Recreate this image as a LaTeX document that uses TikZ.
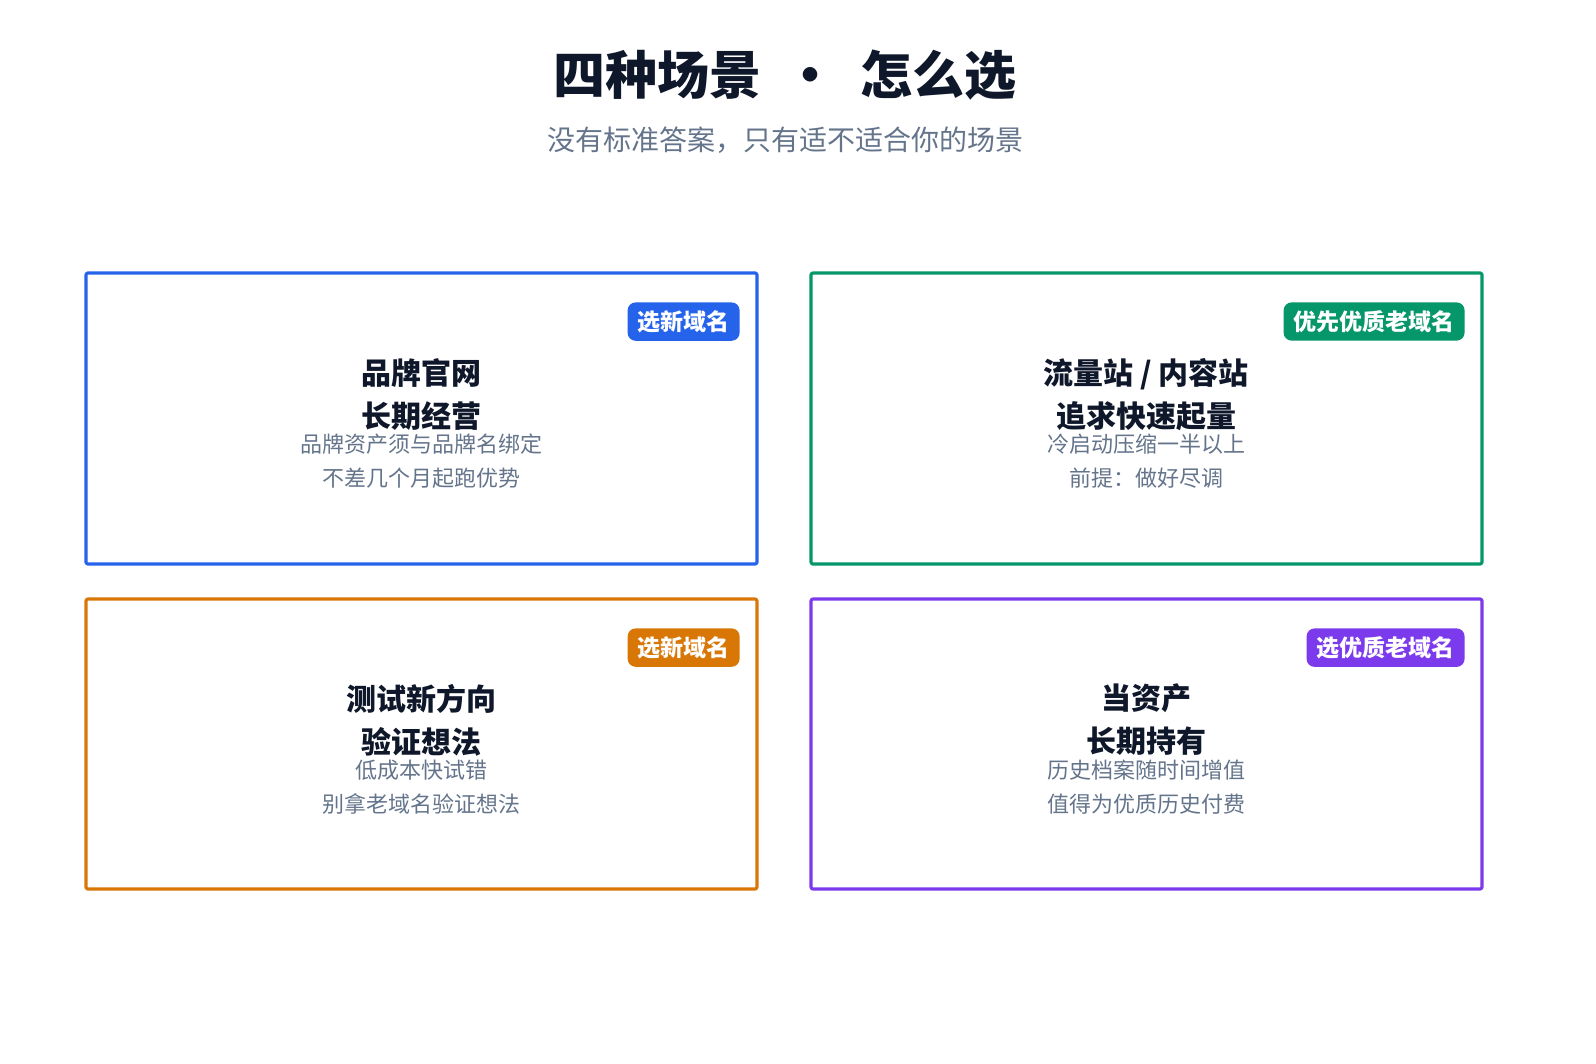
\documentclass[tikz,border=0pt]{standalone}
\usepackage{fontspec}
\setmainfont{Noto Sans CJK SC}
\usetikzlibrary{positioning}
\definecolor{cblue}{HTML}{2563EB}
\definecolor{cgreen}{HTML}{059669}
\definecolor{corange}{HTML}{D97706}
\definecolor{cpurple}{HTML}{7C3AED}
\definecolor{cink}{HTML}{0F172A}
\definecolor{cgray}{HTML}{64748B}
\tikzset{
  card/.style={draw=#1,line width=1.6pt,rounded corners=1pt},
  badge/.style={fill=#1,rounded corners=4pt,text=white,font=\fontsize{11.5}{13}\selectfont\bfseries,inner xsep=5pt,inner ysep=4pt,anchor=north east},
  head/.style={text=cink,font=\fontsize{15}{21.5}\selectfont\bfseries,align=center},
  note/.style={text=cgray,font=\fontsize{11}{17}\selectfont,align=center}
}
\begin{document}
\begin{tikzpicture}[line cap=round,line join=round,x=0.5pt,y=-0.5pt]
\useasboundingbox (0,0) rectangle (1596,1064);
\node[text=cink,font=\fontsize{26}{30}\selectfont\bfseries] (title) at (785,75) {四种场景 \ · \ 怎么选};
\node[text=cgray,font=\fontsize{14}{16}\selectfont] (sub) at (785,140) {没有标准答案，只有适不适合你的场景};
% cards
\draw[card=cblue] (86,273) rectangle (757,564);
\draw[card=cgreen] (811,273) rectangle (1482,564);
\draw[card=corange] (86,599) rectangle (757,889);
\draw[card=cpurple] (811,599) rectangle (1482,889);
% badges
\node[badge=cblue] (b1) at (740,302) {选新域名};
\node[badge=cgreen] (b2) at (1465,302) {优先优质老域名};
\node[badge=corange] (b3) at (740,628) {选新域名};
\node[badge=cpurple] (b4) at (1465,628) {选优质老域名};
% texts
\node[head] (h1) at (421,395) {品牌官网\\长期经营};
\node[note] (n1) at (421,461) {品牌资产须与品牌名绑定\\不差几个月起跑优势};
\node[head] (h2) at (1146,395) {流量站 / 内容站\\追求快速起量};
\node[note] (n2) at (1146,461) {冷启动压缩一半以上\\前提：做好尽调};
\node[head] (h3) at (421,720) {测试新方向\\验证想法};
\node[note] (n3) at (421,787) {低成本快试错\\别拿老域名验证想法};
\node[head] (h4) at (1146,720) {当资产\\长期持有};
\node[note] (n4) at (1146,787) {历史档案随时间增值\\值得为优质历史付费};
\end{tikzpicture}
\end{document}
